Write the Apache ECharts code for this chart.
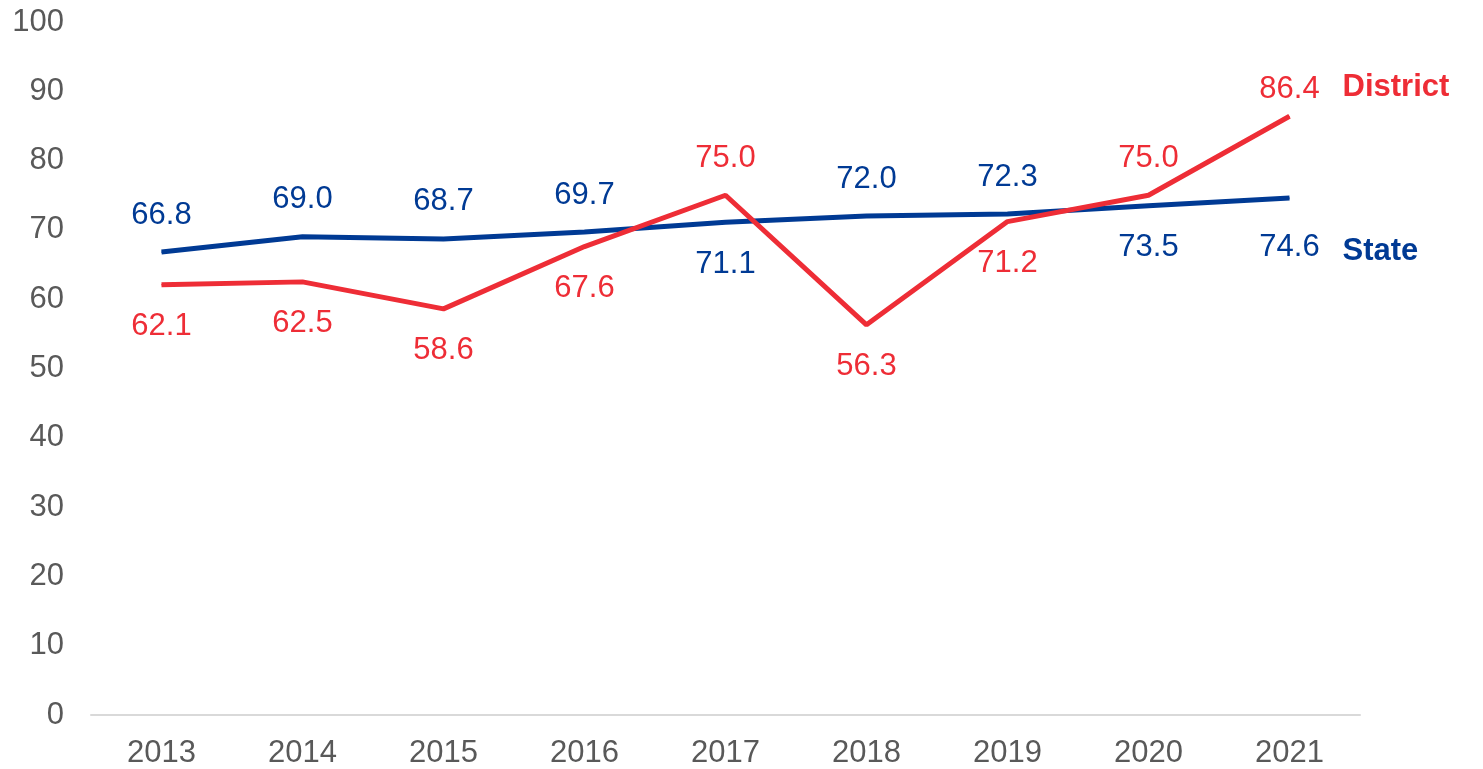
<!DOCTYPE html>
<html>
<head>
<meta charset="utf-8">
<style>
  html, body { margin: 0; padding: 0; background: #fff; }
  #main { width: 1483px; height: 769px; }
</style>
<script src="https://cdn.jsdelivr.net/npm/echarts@6/dist/echarts.min.js"></script>
</head>
<body>
<div id="main"></div>
<script>
var years = ['2013', '2014', '2015', '2016', '2017', '2018', '2019', '2020', '2021'];
var district = [62.1, 62.5, 58.6, 67.6, 75.0, 56.3, 71.2, 75.0, 86.4];
var state = [66.8, 69.0, 68.7, 69.7, 71.1, 72.0, 72.3, 73.5, 74.6];

// which years get the label on the other side of the line
var districtAbove = ['2017', '2020', '2021'];
var stateBelow = ['2017', '2020', '2021'];

var RED = '#EE2D36';
var BLUE = '#003A94';
var FS = 31;

function points(values, flip, normal, other) {
    return values.map(function (v, i) {
        var pos = flip.indexOf(years[i]) >= 0 ? other : normal;
        var lbl = { position: pos, distance: pos === 'top' ? 21 : 26 };
        // last point's labels sit a little lower in the original
        if (i === values.length - 1) lbl.offset = [0, pos === 'top' ? 10 : 7];
        return { value: v, label: lbl };
    });
}

var myChart = echarts.init(document.getElementById('main'));
var option = {
    animation: false,
    grid: { left: 91, right: 123, top: 22, bottom: 54 },
    xAxis: {
        type: 'category',
        data: years,
        boundaryGap: true,
        axisLine: { lineStyle: { color: '#D9D9D9', width: 2 } },
        axisTick: { show: false },
        axisLabel: { color: '#595959', fontSize: FS, fontFamily: 'Liberation Sans', margin: 23 }
    },
    yAxis: {
        type: 'value',
        min: 0,
        max: 100,
        interval: 10,
        splitLine: { show: false },
        axisLine: { show: false },
        axisTick: { show: false },
        axisLabel: { color: '#595959', fontSize: FS, fontFamily: 'Liberation Sans', margin: 27 }
    },
    series: [{
        name: 'State',
        type: 'line',
        data: points(state, stateBelow, 'top', 'bottom'),
        showSymbol: true,
        symbol: 'circle',
        symbolSize: 1,
        itemStyle: { color: BLUE },
        lineStyle: { color: BLUE, width: 5 },
        label: {
            show: true,
            color: BLUE,
            fontSize: FS,
            fontFamily: 'Liberation Sans',
            formatter: function (p) { return p.value.toFixed(1); }
        },
        endLabel: {
            show: true,
            formatter: '{a}',
            color: BLUE,
            fontSize: FS,
            fontWeight: 'bold',
            fontFamily: 'Liberation Sans',
            distance: 0,
            offset: [53, 53]
        }
    }, {
        name: 'District',
        type: 'line',
        data: points(district, districtAbove, 'bottom', 'top'),
        showSymbol: true,
        symbol: 'circle',
        symbolSize: 1,
        itemStyle: { color: RED },
        lineStyle: { color: RED, width: 5 },
        label: {
            show: true,
            color: RED,
            fontSize: FS,
            fontFamily: 'Liberation Sans',
            formatter: function (p) { return p.value.toFixed(1); }
        },
        endLabel: {
            show: true,
            formatter: '{a}',
            color: RED,
            fontSize: FS,
            fontWeight: 'bold',
            fontFamily: 'Liberation Sans',
            distance: 0,
            offset: [53, -29]
        }
    }]
};
myChart.setOption(option);
</script>
</body>
</html>
